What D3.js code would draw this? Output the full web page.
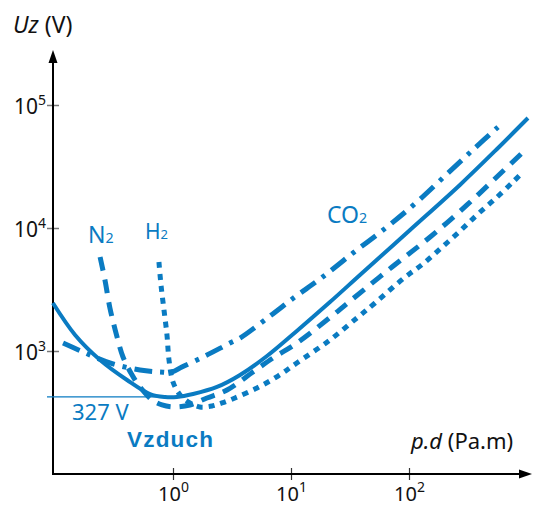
<!DOCTYPE html>
<html lang="cs">
<head>
  <meta charset="UTF-8">
  <title>Paschen</title>
  <style>
    body { margin: 0; background: #fff; }
    svg { display: block; }
  </style>
</head>
<body>
  <script src="https://d3js.org/d3.v7.min.js"></script>
  <script>
  // osy
  var xTicks = [1, 10, 100];
  var xTickExp = ['0', '1', '2'];
  var yTicks = [1e3, 1e4, 1e5];
  var yTickExp = ['3', '4', '5'];

  // Vzduch (plna cara)
  var vzduchPd = [0.096, 0.148, 0.241, 0.408, 0.638, 0.855, 1.08, 1.48, 2.36, 3.70, 6.26, 11.2, 21.4, 38.4, 102, 270, 557, 1019];
  var vzduchU  = [2455, 1350, 845, 581, 447, 423, 423, 447, 510, 638, 910, 1455, 2500, 4150, 9630, 22400, 43900, 78400];
  var vzduchMin = 423;

  // N2 (carkovane)
  var n2Pd = [0.241, 0.265, 0.292, 0.329, 0.377, 0.450, 0.525, 0.664, 0.807, 1.0, 1.39, 1.94, 2.87, 4.76, 7.03, 11.2, 22.7, 34.9, 71.8, 151, 310, 614, 907];
  var n2U  = [5810, 3780, 2240, 1400, 894, 638, 510, 400, 364, 351, 364, 415, 482, 675, 877, 1160, 1960, 2750, 4820, 8450, 15400, 28500, 40700];

  // H2 (teckovane)
  var h2Pd = [0.760, 0.791, 0.839, 0.889, 0.925, 1.0, 1.15, 1.39, 1.69, 2.14, 2.60, 3.35, 5.15, 7.76, 11.2, 21.4, 37.0, 51.5, 90.7, 131, 187, 265, 377, 535, 761, 907];
  var h2U  = [5290, 3440, 2150, 1350, 845, 560, 439, 378, 351, 357, 378, 415, 500, 626, 799, 1230, 1890, 2455, 3920, 5100, 6870, 9270, 12800, 17200, 23700, 28000];

  // CO2 (cerchovane)
  var co2Pd = [0.117, 0.173, 0.292, 0.525, 0.776, 0.981, 1.19, 1.80, 3.04, 3.70, 6.64, 10.8, 17.6, 33.5, 65.1, 117, 214, 362, 568];
  var co2U  = [1160, 982, 799, 701, 675, 675, 741, 894, 1160, 1275, 1925, 2750, 3850, 6260, 10200, 16300, 28000, 44700, 66200];

  var blue = '#0a7bc2';
  var w = 535, h = 506;
  var x0 = 53, y0 = 474;

  var svg = d3.select('body').append('svg')
    .attr('width', w)
    .attr('height', h)
    .attr('font-family', '"Noto Sans", sans-serif');

  var x = d3.scaleLog().domain([1, 100]).range([173, 409]);
  var y = d3.scaleLog().domain([1e3, 1e5]).range([351, 105]);

  // x ticks
  var gx = svg.append('g')
    .attr('transform', 'translate(0,' + (y0 - 6) + ')')
    .call(d3.axisBottom(x).tickValues(xTicks).tickSize(12).tickFormat(''));
  gx.select('.domain').remove();
  gx.attr('font-size', 20).attr('font-family', null);
  gx.selectAll('.tick line').attr('stroke', '#333').attr('stroke-width', 1.2);
  gx.selectAll('.tick text')
    .attr('y', 33).attr('dy', null).attr('fill', '#111')
    .each(function (d, i) {
      var t = d3.select(this);
      t.append('tspan').text('10');
      t.append('tspan').attr('dy', -9).attr('font-size', 14).text(xTickExp[i]);
    });

  // y ticks
  var gy = svg.append('g')
    .attr('transform', 'translate(' + (x0 + 6) + ',0)')
    .call(d3.axisLeft(y).tickValues(yTicks).tickSize(12).tickFormat(''));
  gy.select('.domain').remove();
  gy.attr('font-size', 21).attr('font-family', null);
  gy.selectAll('.tick line').attr('stroke', '#777').attr('stroke-width', 1.5);
  gy.selectAll('.tick text')
    .attr('x', -13).attr('y', 8).attr('dy', null).attr('fill', '#111')
    .each(function (d, i) {
      var t = d3.select(this);
      t.append('tspan').text('10');
      t.append('tspan').attr('dy', -9).attr('font-size', 14).text(yTickExp[i]);
    });

  // osy se sipkami
  svg.append('line')
    .attr('x1', x0).attr('y1', y0 + 1).attr('x2', x0).attr('y2', 60)
    .attr('stroke', '#000').attr('stroke-width', 2);
  svg.append('path')
    .attr('d', 'M' + x0 + ',50 L' + (x0 - 4.5) + ',63 L' + (x0 + 4.5) + ',63 Z')
    .attr('fill', '#000');
  svg.append('line')
    .attr('x1', x0 - 1).attr('y1', y0).attr('x2', 522).attr('y2', y0)
    .attr('stroke', '#000').attr('stroke-width', 2);
  svg.append('path')
    .attr('d', 'M532,' + y0 + ' L519,' + (y0 - 4.5) + ' L519,' + (y0 + 4.5) + ' Z')
    .attr('fill', '#000');

  // minimum
  svg.append('line')
    .attr('x1', x0 - 6).attr('x2', x(0.9))
    .attr('y1', y(vzduchMin)).attr('y2', y(vzduchMin))
    .attr('stroke', blue).attr('stroke-width', 1.2);

  var line = d3.line()
    .x(function (d) { return x(d[0]); })
    .y(function (d) { return y(d[1]); })
    .curve(d3.curveCatmullRom.alpha(0.5));

  function curve(pd, u, dash, width) {
    svg.append('path')
      .datum(d3.zip(pd, u))
      .attr('d', line)
      .attr('fill', 'none')
      .attr('stroke', blue)
      .attr('stroke-width', width)
      .attr('stroke-dasharray', dash);
  }

  curve(h2Pd, h2U, '6,6', 5);
  curve(n2Pd, n2U, '14,9', 5);
  curve(co2Pd, co2U, '18,8,4,8', 5);
  curve(vzduchPd, vzduchU, null, 4);

  // popisky
  function label(px, py, main, sub, size) {
    var t = svg.append('text')
      .attr('x', px).attr('y', py)
      .attr('font-size', size)
      .attr('fill', blue);
    t.append('tspan').text(main);
    if (sub) t.append('tspan').attr('font-size', size * 0.62).text(sub);
    return t;
  }
  label(88, 243, 'N', '2', 23);
  label(145, 239, 'H', '2', 21);
  label(327, 223, 'CO', '2', 23);
  label(72, 420, '327 V', null, 22);

  svg.append('text')
    .attr('x', 127).attr('y', 447)
    .attr('font-family', '"Liberation Sans", Arial, sans-serif')
    .attr('font-weight', 'bold')
    .attr('font-size', 22.5)
    .attr('letter-spacing', 1.2)
    .attr('fill', blue)
    .text('Vzduch');

  var ty = svg.append('text').attr('x', 13).attr('y', 33).attr('font-size', 23).attr('fill', '#111');
  ty.append('tspan').attr('font-style', 'italic').text('Uz');
  ty.append('tspan').text(' (V)');

  var tx = svg.append('text').attr('x', 411).attr('y', 449).attr('font-size', 22).attr('fill', '#111');
  tx.append('tspan').attr('font-style', 'italic').text('p.d');
  tx.append('tspan').text(' (Pa.m)');
  </script>
</body>
</html>
